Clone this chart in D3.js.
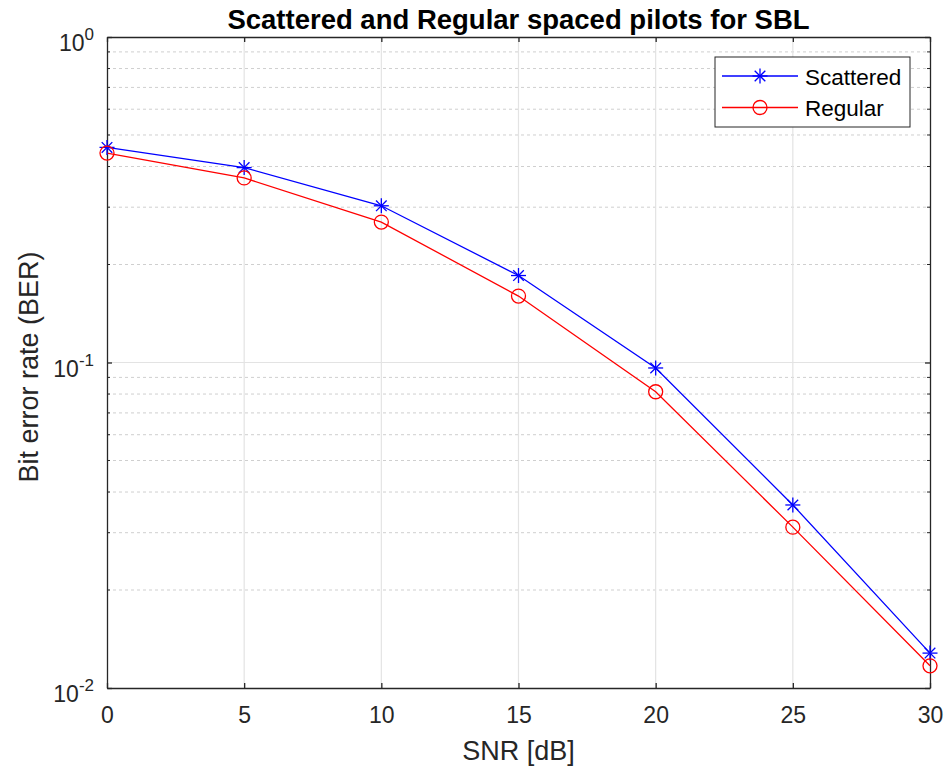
<!DOCTYPE html>
<html><head><meta charset="utf-8">
<script src="https://cdn.jsdelivr.net/npm/d3@7"></script>
<style>body{margin:0;background:#fff}svg{display:block;font-family:"Liberation Sans",Arial,sans-serif}</style>
</head><body><svg id="c" width="948" height="768"></svg>
<script>
const snr = [0,5,10,15,20,25,30];
const scattered = [0.458,0.397,0.303,0.185,0.0962,0.0365,0.0128];
const regular = [0.440,0.369,0.270,0.160,0.0813,0.0312,0.0117];
const xTicks = [0,5,10,15,20,25,30];
const yMajor = [1e-2,1e-1,1];
const seriesNames = ["Scattered","Regular"];
const seriesColors = ["#0000ff","#ff0000"];

const svg = d3.select("#c");
const L=107,R=930,T=37,B=688;
const x = d3.scaleLinear().domain([0,30]).range([L,R]);
const y = d3.scaleLog().domain([1e-2,1]).range([B,T]);
const axisCol="#262626";
const FF="Liberation Sans, Arial, sans-serif";
const yMinor=[];
for(const d of [1e-2,1e-1]) for(let k=2;k<=9;k++) yMinor.push(d*k);

// grid
const g=svg.append("g");
g.selectAll(".mn").data(yMinor).join("line").attr("x1",L).attr("x2",R)
 .attr("y1",d=>y(d)).attr("y2",d=>y(d)).attr("stroke","#cfcfcf").attr("stroke-dasharray","3,3").attr("stroke-width",1);
g.selectAll(".mj").data(yMajor.slice(1,2)).join("line").attr("x1",L).attr("x2",R)
 .attr("y1",d=>y(d)).attr("y2",d=>y(d)).attr("stroke","#e3e3e3").attr("stroke-width",1.2);
g.selectAll(".vx").data(xTicks.slice(1,-1)).join("line").attr("y1",T).attr("y2",B)
 .attr("x1",d=>x(d)).attr("x2",d=>x(d)).attr("stroke","#e3e3e3").attr("stroke-width",1.2);

// axes
const fs=23;
const xa=svg.append("g").attr("transform",`translate(0,${B})`)
 .call(d3.axisBottom(x).tickValues(xTicks).tickSizeInner(-5).tickSizeOuter(0));
xa.select(".domain").attr("stroke",axisCol).attr("stroke-width",1.3);
xa.selectAll(".tick line").attr("stroke",axisCol).attr("stroke-width",1.3);
xa.selectAll("text").attr("y",35).attr("dy",0).attr("font-size",fs).attr("fill",axisCol).attr("font-family",FF);
const xt=svg.append("g").attr("transform",`translate(0,${T})`)
 .call(d3.axisTop(x).tickValues(xTicks).tickSizeInner(-5).tickSizeOuter(0).tickFormat(""));
xt.select(".domain").attr("stroke",axisCol).attr("stroke-width",1.3);
xt.selectAll(".tick line").attr("stroke",axisCol).attr("stroke-width",1.3);

const yl=svg.append("g").attr("transform",`translate(${L},0)`)
 .call(d3.axisLeft(y).tickValues(yMajor).tickSizeInner(-5).tickSizeOuter(0).tickFormat(""));
yl.select(".domain").attr("stroke",axisCol).attr("stroke-width",1.3);
yl.selectAll(".tick line").attr("stroke",axisCol).attr("stroke-width",1.3);
const yr=svg.append("g").attr("transform",`translate(${R},0)`)
 .call(d3.axisRight(y).tickValues(yMajor).tickSizeInner(-5).tickSizeOuter(0).tickFormat(""));
yr.select(".domain").attr("stroke",axisCol).attr("stroke-width",1.3);
yr.selectAll(".tick line").attr("stroke",axisCol).attr("stroke-width",1.3);
// minor ticks
for(const [x0,dir] of [[L,1],[R,-1]]){
 svg.append("g").selectAll("line").data(yMinor).join("line")
  .attr("x1",x0).attr("x2",x0+dir*3).attr("y1",d=>y(d)).attr("y2",d=>y(d))
  .attr("stroke",axisCol).attr("stroke-width",1);
}
// y tick labels 10^n
const ylab=svg.append("g").selectAll("text").data(yMajor).join("text")
 .attr("x",L-13).attr("y",d=>y(d)+14).attr("text-anchor","end").attr("font-size",fs).attr("fill",axisCol).attr("font-family",FF);
ylab.append("tspan").text("10");
ylab.append("tspan").attr("dy",-11).attr("font-size",17).text(d=>Math.round(Math.log10(d)));

// labels
svg.append("text").attr("x",(L+R)/2).attr("y",760).attr("text-anchor","middle").attr("font-size",27).attr("fill",axisCol).attr("font-family",FF).text("SNR [dB]");
svg.append("text").attr("transform",`translate(38,367) rotate(-90)`).attr("text-anchor","middle").attr("font-size",27).attr("fill",axisCol).attr("font-family",FF).text("Bit error rate (BER)");
svg.append("text").attr("x",(L+R)/2).attr("y",29).attr("text-anchor","middle").attr("font-size",27.5).attr("font-weight","bold").attr("fill","#000").attr("font-family",FF).text("Scattered and Regular spaced pilots for SBL");

// series
const line=d3.line().x((d,i)=>x(snr[i])).y(d=>y(d));
function star(sel,cx,cy,col,r){
 const gg=sel.append("g").attr("stroke",col).attr("stroke-width",1.3);
 for(const a of [0,45,90,135]){
  const rad=a*Math.PI/180;
  gg.append("line").attr("x1",cx-r*Math.cos(rad)).attr("y1",cy-r*Math.sin(rad))
   .attr("x2",cx+r*Math.cos(rad)).attr("y2",cy+r*Math.sin(rad));
 }
}
const all=[scattered,regular];
all.forEach((s,k)=>{
 svg.append("path").datum(s).attr("d",line).attr("fill","none").attr("stroke",seriesColors[k]).attr("stroke-width",1.3);
});
scattered.forEach((v,i)=>star(svg,x(snr[i]),y(v),seriesColors[0],7.5));
svg.append("g").selectAll("circle").data(regular).join("circle")
 .attr("cx",(d,i)=>x(snr[i])).attr("cy",d=>y(d)).attr("r",7).attr("fill","none").attr("stroke",seriesColors[1]).attr("stroke-width",1.3);

// legend
const lg=svg.append("g");
lg.append("rect").attr("x",715).attr("y",57).attr("width",195).attr("height",70).attr("fill","#fff").attr("stroke",axisCol).attr("stroke-width",1);
seriesNames.forEach((n,k)=>{
 const ly=76+k*31.5;
 lg.append("line").attr("x1",722).attr("x2",798).attr("y1",ly).attr("y2",ly).attr("stroke",seriesColors[k]).attr("stroke-width",1.3);
 if(k===0) star(lg,760,ly,seriesColors[0],7.5);
 else lg.append("circle").attr("cx",760).attr("cy",ly).attr("r",7).attr("fill","none").attr("stroke",seriesColors[1]).attr("stroke-width",1.3);
 lg.append("text").attr("x",805).attr("y",ly+8.5).attr("font-size",22.5).attr("fill","#000").attr("font-family",FF).text(n);
});
</script></body></html>
